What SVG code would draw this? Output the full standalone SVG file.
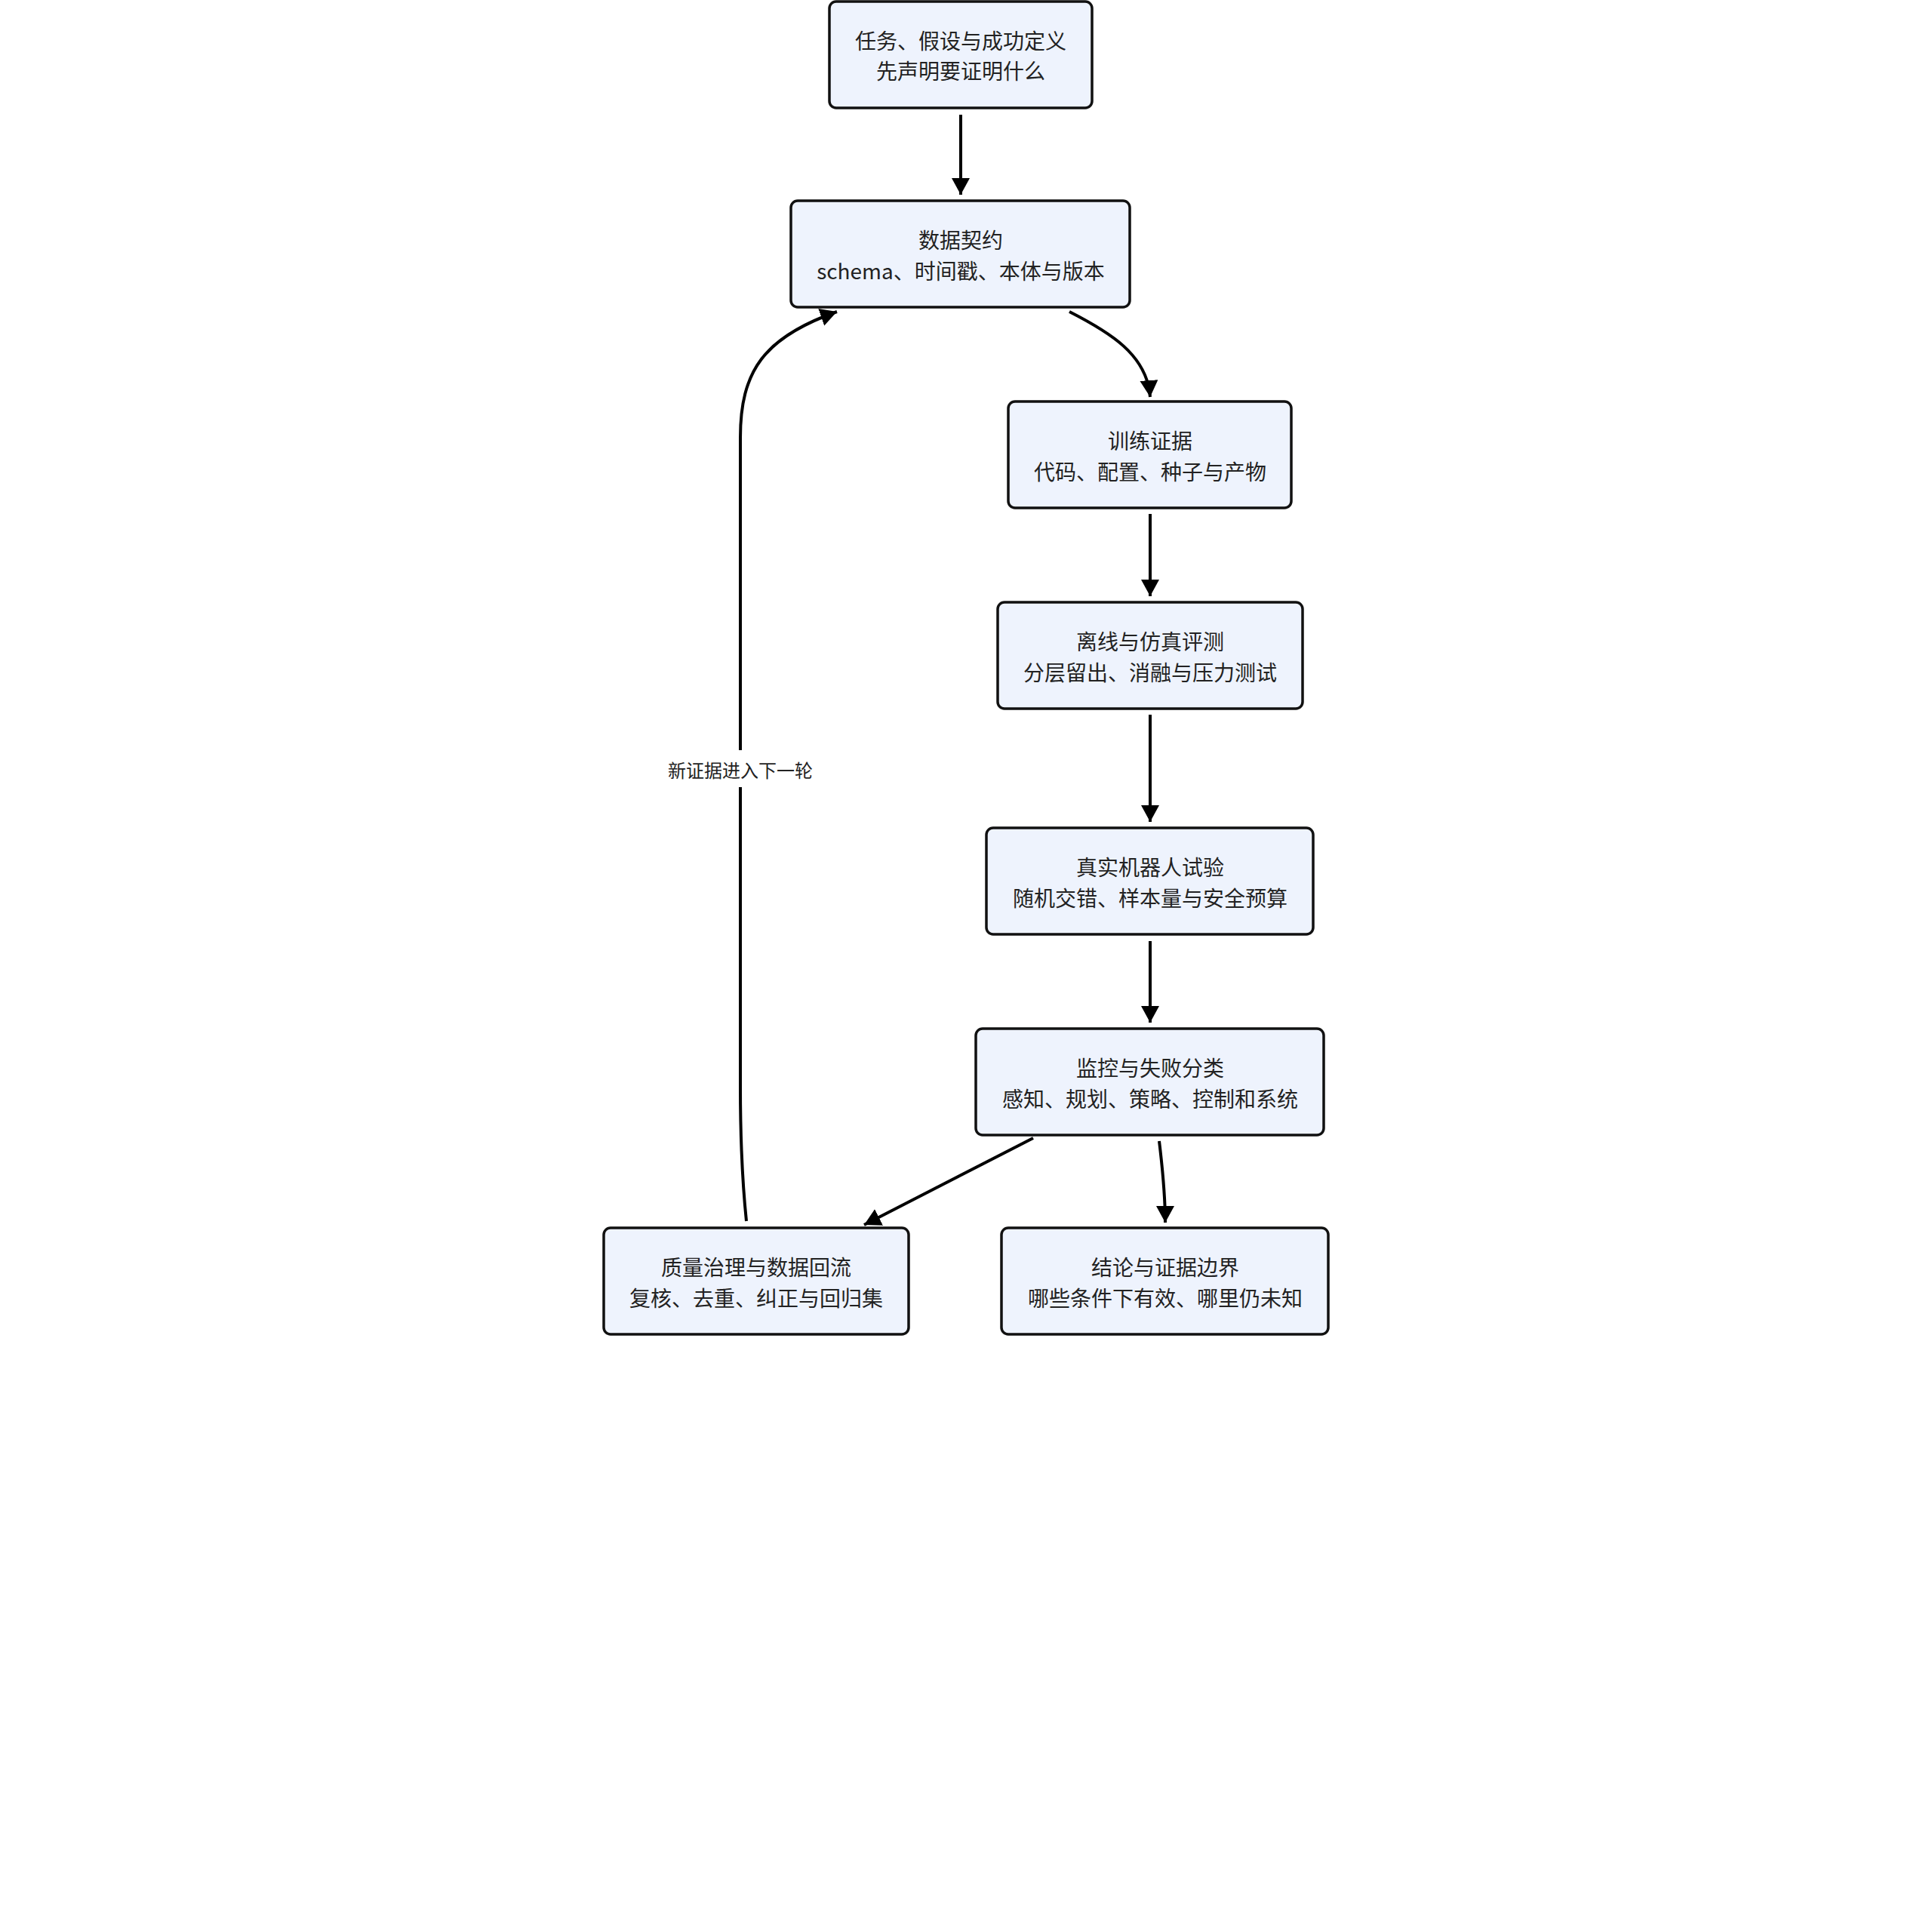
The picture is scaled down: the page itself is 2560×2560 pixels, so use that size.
<svg xmlns="http://www.w3.org/2000/svg" width="2560" height="2560" viewBox="0 0 2560 2560">
<style>
.node rect{fill:#eef3fd;stroke:#111;stroke-width:3.5}
.node text,.lbl text{font-family:"Noto Sans CJK SC","Noto Sans",sans-serif;fill:#222;text-anchor:middle;dominant-baseline:central}
.node text{font-size:28px}
.lbl text{font-size:24px}
.edge{fill:none;stroke:#000;stroke-width:4;marker-end:url(#arr)}
</style>
<defs>
<marker id="arr" markerUnits="userSpaceOnUse" markerWidth="24" markerHeight="26" refX="22" refY="12" orient="auto">
<path d="M0,0 L22,12 L0,24 z" fill="#000"/>
</marker>
</defs>
<rect width="2560" height="2560" fill="#fff"/>
<g id="connectors">
<path class="edge" d="M1273 152 L1273 258"/>
<path class="edge" d="M1417 413 C1470 440 1520 470 1524 526"/>
<path class="edge" d="M1524 681 L1524 790"/>
<path class="edge" d="M1524 947 L1524 1089"/>
<path class="edge" d="M1524 1247 L1524 1355"/>
<path class="edge" d="M1369 1508 L1145 1623"/>
<path class="edge" d="M1536 1512 C1540 1545 1544 1580 1544 1620"/>
<path class="edge" d="M989 1618 C983 1560 981 1500 981 1440 L981 580 C981 492 1012 447 1109 413"/>
<g class="lbl" id="label-loop">
<rect x="884" y="994" width="194" height="49" fill="#fff"/>
<text x="981" y="1019">新证据进入下一轮</text>
</g>
</g>
<g class="node" id="n-task">
<rect x="1099" y="2" width="348" height="141" rx="9"/>
<text x="1273" y="53">任务、假设与成功定义</text>
<text x="1273" y="93">先声明要证明什么</text>
</g>
<g class="node" id="n-data">
<rect x="1048" y="266" width="449" height="141" rx="9"/>
<text x="1273" y="317">数据契约</text>
<text x="1273" y="358">schema、时间戳、本体与版本</text>
</g>
<g class="node" id="n-train">
<rect x="1336" y="532" width="375" height="141" rx="9"/>
<text x="1524" y="583">训练证据</text>
<text x="1524" y="624">代码、配置、种子与产物</text>
</g>
<g class="node" id="n-eval">
<rect x="1322" y="798" width="404" height="141" rx="9"/>
<text x="1524" y="849">离线与仿真评测</text>
<text x="1524" y="890">分层留出、消融与压力测试</text>
</g>
<g class="node" id="n-robot">
<rect x="1307" y="1097" width="433" height="141" rx="9"/>
<text x="1524" y="1148">真实机器人试验</text>
<text x="1524" y="1189">随机交错、样本量与安全预算</text>
</g>
<g class="node" id="n-monitor">
<rect x="1293" y="1363" width="461" height="141" rx="9"/>
<text x="1524" y="1414">监控与失败分类</text>
<text x="1524" y="1455">感知、规划、策略、控制和系统</text>
</g>
<g class="node" id="n-quality">
<rect x="800" y="1627" width="404" height="141" rx="9"/>
<text x="1002" y="1678">质量治理与数据回流</text>
<text x="1002" y="1719">复核、去重、纠正与回归集</text>
</g>
<g class="node" id="n-conclusion">
<rect x="1327" y="1627" width="433" height="141" rx="9"/>
<text x="1544" y="1678">结论与证据边界</text>
<text x="1544" y="1719">哪些条件下有效、哪里仍未知</text>
</g>
</svg>
